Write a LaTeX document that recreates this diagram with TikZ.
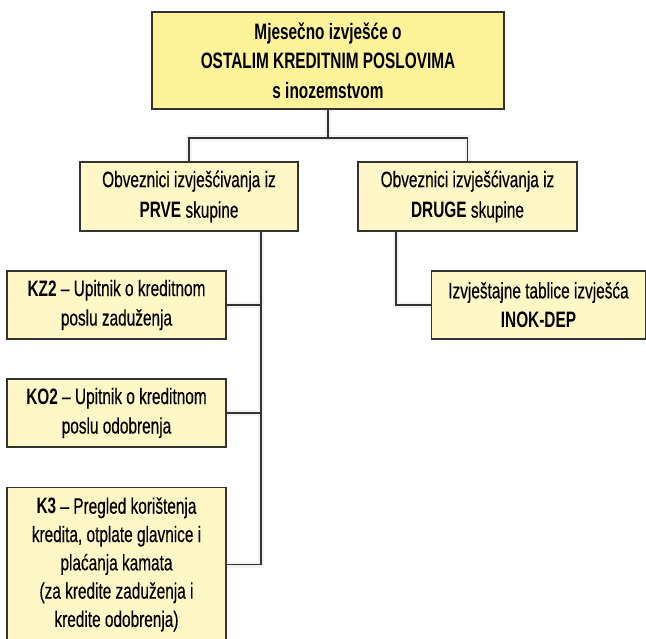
\documentclass[tikz,border=0pt]{standalone}
\usepackage{fontspec}
\setmainfont{Liberation Sans}[FakeStretch=0.69, UprightFeatures={FakeBold=0.4}]
\usetikzlibrary{calc,backgrounds}
\definecolor{topfill}{HTML}{FFF39A}
\definecolor{boxfill}{HTML}{FFF7C6}
\definecolor{edgecol}{HTML}{333333}
\begin{document}
\begin{tikzpicture}[x=1pt,y=-1pt,
  box/.style={draw=edgecol, line width=1.4pt, fill=boxfill, minimum width=219pt,
    minimum height=68pt, align=center, inner sep=0pt,
    font=\fontsize{22.3}{29.5}\selectfont},
  topbox/.style={box, fill=topfill, minimum width=352pt, minimum height=97pt},
  conn/.style={draw=edgecol, line width=1.4pt},
  shade/.style={draw=black!5, line width=6pt, shift={(3pt,-3pt)}}]
\useasboundingbox (0,0) rectangle (646,639);
\clip (0,0) rectangle (646,639);

\node[topbox] (top) at (328,60.5) {\textbf{Mjesečno izvješće o}\\\textbf{OSTALIM KREDITNIM POSLOVIMA}\\\textbf{s inozemstvom}};
\node[box, minimum width=218pt, minimum height=69pt, font=\fontsize{22.3}{30.5}\selectfont] (L) at (189,196.5) {Obveznici izvješćivanja iz\\\textbf{PRVE} skupine};
\node[box, minimum height=69pt, font=\fontsize{22.3}{30.5}\selectfont] (R) at (467.5,196.5) {Obveznici izvješćivanja iz\\\textbf{DRUGE} skupine};
\node[box] (KZ) at (116.5,305) {\textbf{KZ2} -- Upitnik o kreditnom\\poslu zaduženja};
\node[box] (KO) at (116.5,413) {\textbf{KO2} -- Upitnik o kreditnom\\poslu odobrenja};
\node[box, minimum height=154pt, font=\fontsize{22.3}{28.3}\selectfont] (KT) at (116.5,564.5) {\textbf{K3} -- Pregled korištenja\\kredita, otplate glavnice i\\plaćanja kamata\\(za kredite zaduženja i\\kredite odobrenja)};
\node[box, minimum width=214pt] (IN) at (538.5,305) {Izvještajne tablice izvješća\\\textbf{INOK-DEP}};

\coordinate (hb) at ($(top.south)+(0,28.5)$);
\coordinate (tr) at ($(L.south)+(72,0)$);
\coordinate (rr) at ($(R.south)+(-71.5,0)$);

\begin{scope}[on background layer]
  \fill[white] (0,0) rectangle (646,639);
  \draw[shade] (top.south) -- (hb);
  \draw[shade] (L.north) |- (R.north |- hb) -- (R.north);
  \draw[shade] (tr) |- (KT.east);
  \draw[shade] (KZ.east) -- (KZ.east -| tr);
  \draw[shade] (KO.east) -- (KO.east -| tr);
  \draw[shade] (rr) |- (IN.west);
\end{scope}

\draw[conn] (top.south) -- (hb);
\draw[conn] (L.north) |- (R.north |- hb) -- (R.north);
\draw[conn] (tr) |- (KT.east);
\draw[conn] (KZ.east) -- (KZ.east -| tr);
\draw[conn] (KO.east) -- (KO.east -| tr);
\draw[conn] (rr) |- (IN.west);
\end{tikzpicture}
\end{document}
